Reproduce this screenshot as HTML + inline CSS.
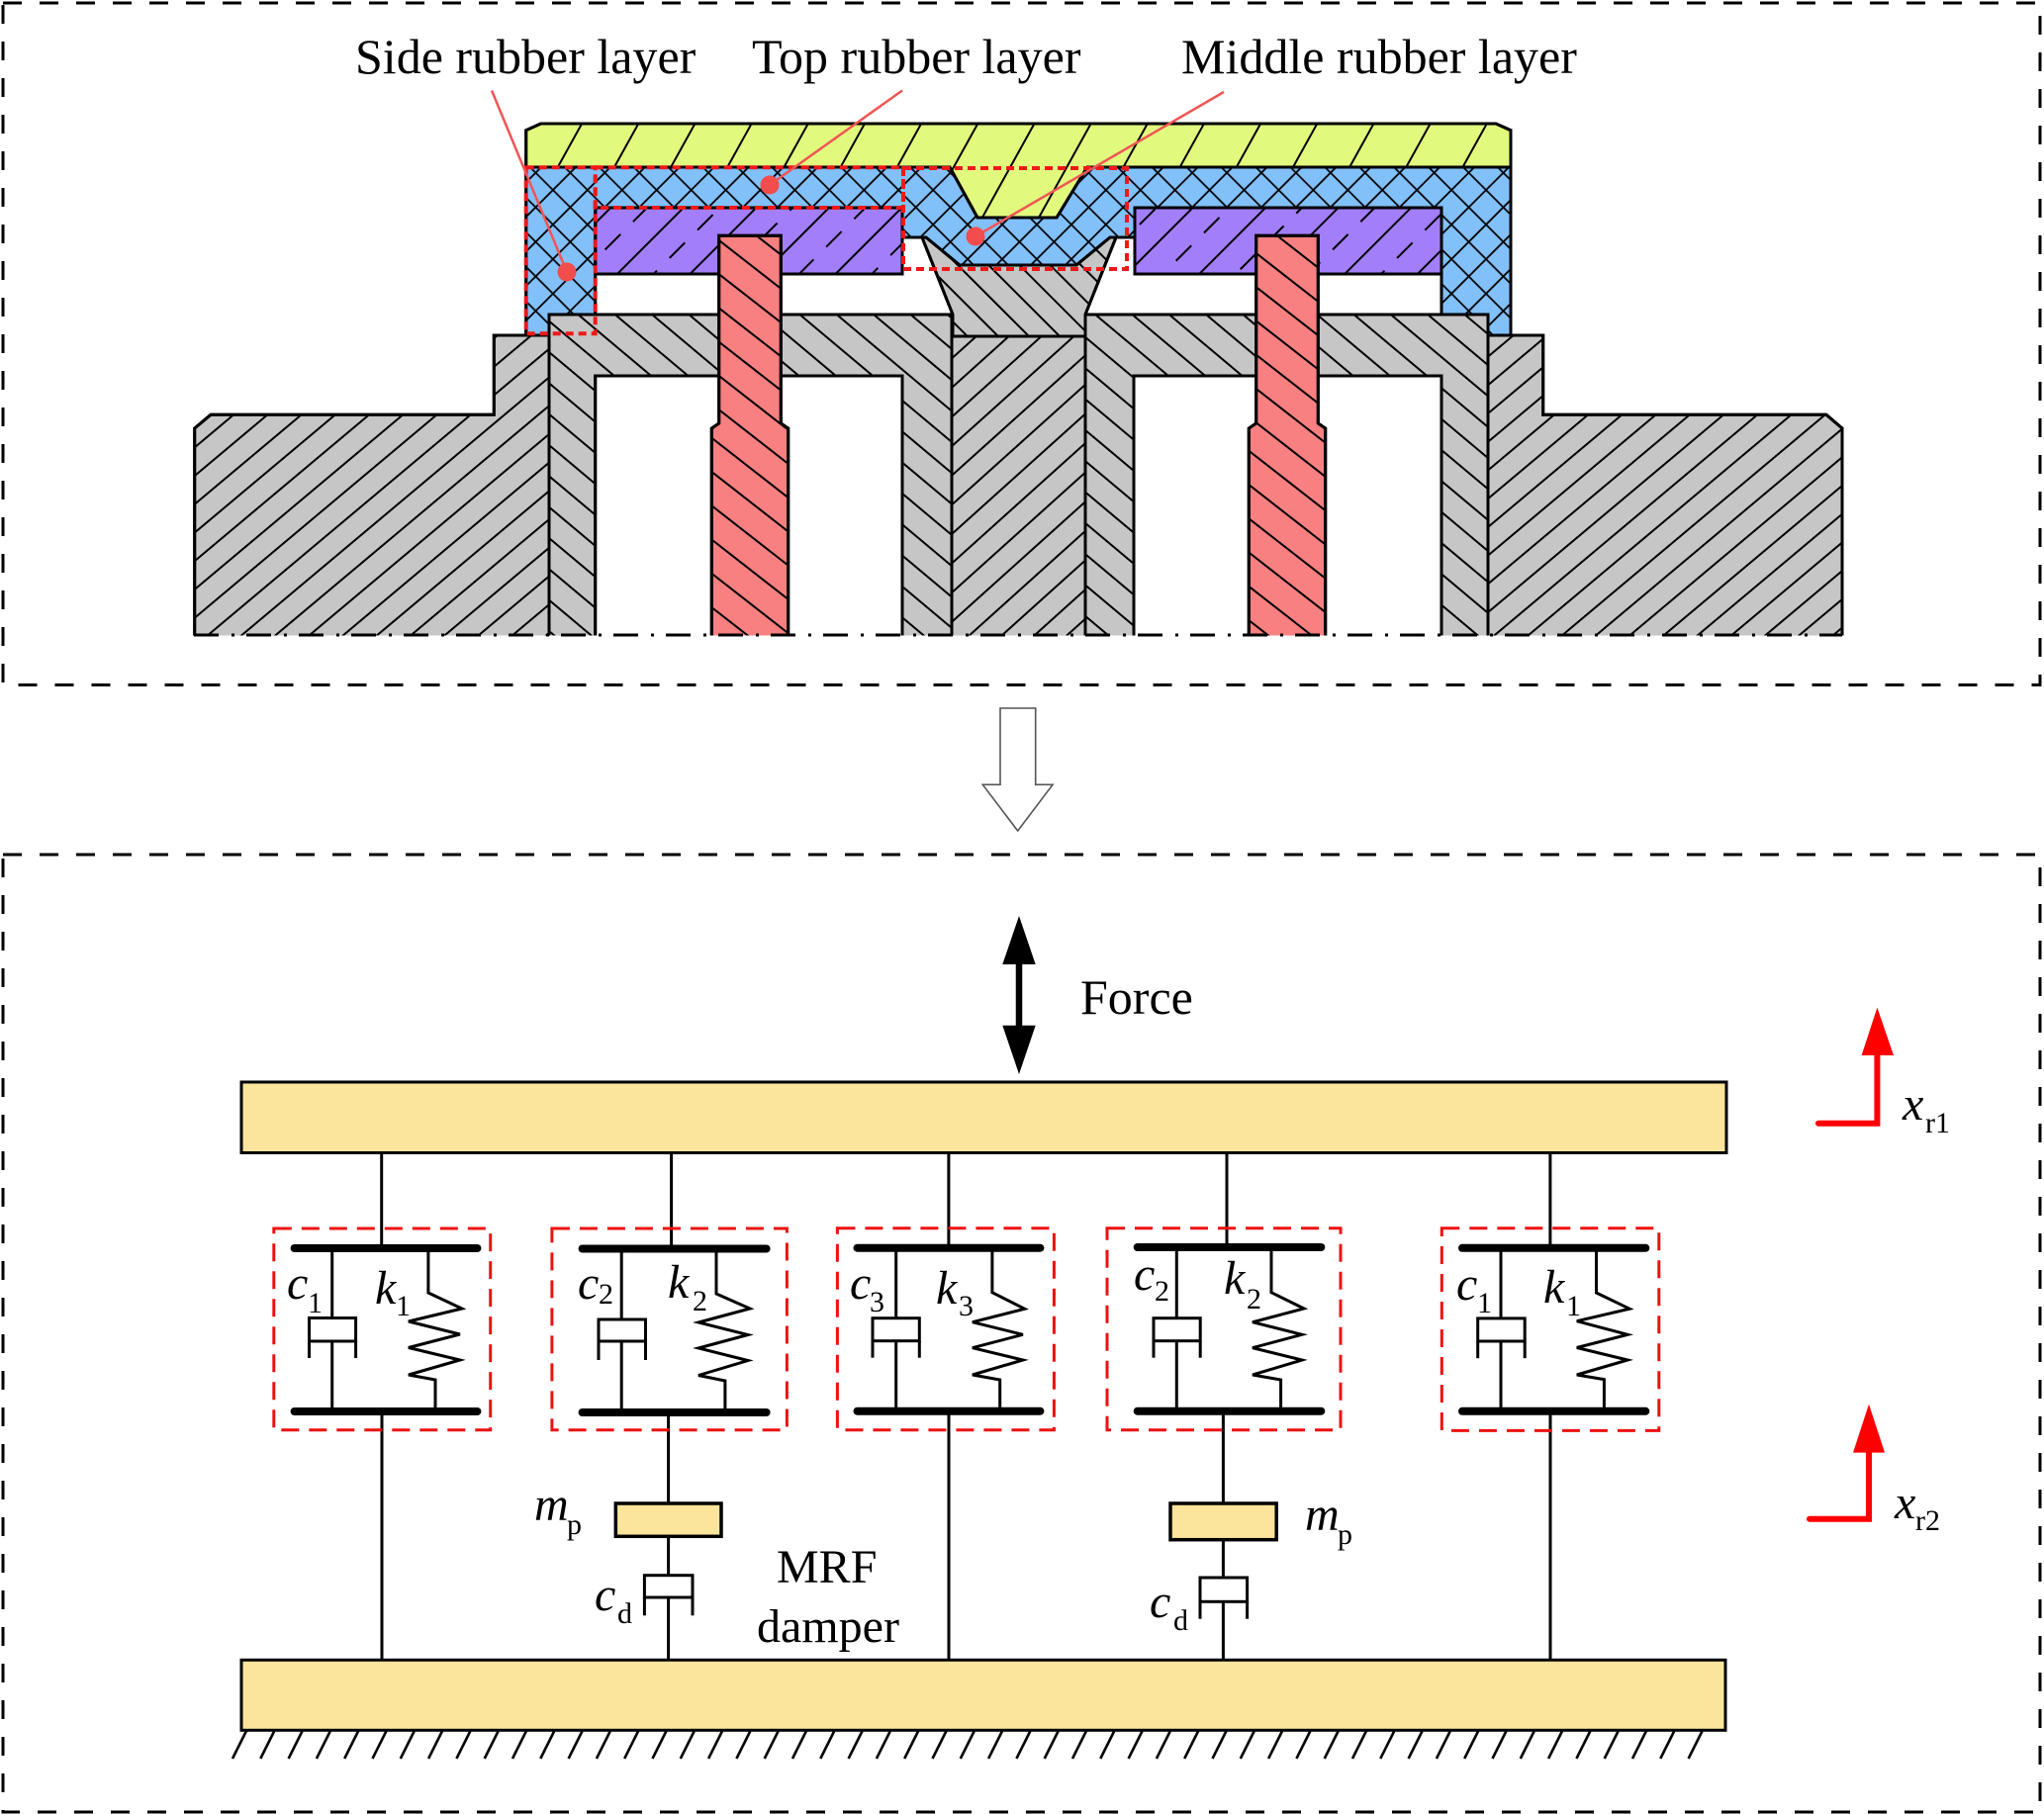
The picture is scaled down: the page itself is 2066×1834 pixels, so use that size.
<!DOCTYPE html>
<html><head><meta charset="utf-8"><style>
html,body{margin:0;padding:0;background:#fff;}
svg{display:block;}
text{font-family:"Liberation Serif","Times New Roman",serif;fill:#000;}
.it{font-style:italic;}
</style></head><body>
<svg width="2066" height="1834" viewBox="0 0 2066 1834" xmlns="http://www.w3.org/2000/svg">
<defs>
<pattern id="hs" width="22" height="22" patternUnits="userSpaceOnUse" patternTransform="rotate(50)"><line x1="11" y1="-1" x2="11" y2="23" stroke="#000" stroke-width="2"/></pattern>
<pattern id="hcol" width="22" height="22" patternUnits="userSpaceOnUse" patternTransform="rotate(48)"><line x1="11" y1="-1" x2="11" y2="23" stroke="#000" stroke-width="2"/></pattern>
<pattern id="hb" width="24" height="24" patternUnits="userSpaceOnUse" patternTransform="rotate(-50)"><line x1="12" y1="-1" x2="12" y2="25" stroke="#000" stroke-width="2"/></pattern>
<pattern id="hp" width="27" height="27" patternUnits="userSpaceOnUse" patternTransform="rotate(-52)"><line x1="13" y1="-1" x2="13" y2="28" stroke="#000" stroke-width="2"/></pattern>
<pattern id="hc" width="22" height="22" patternUnits="userSpaceOnUse" patternTransform="rotate(-45)"><line x1="11" y1="-1" x2="11" y2="23" stroke="#000" stroke-width="2"/></pattern>
<pattern id="hy" width="50" height="50" patternUnits="userSpaceOnUse" patternTransform="rotate(29)"><line x1="25" y1="-1" x2="25" y2="51" stroke="#000" stroke-width="2"/></pattern>
<pattern id="hpu" width="52" height="40" patternUnits="userSpaceOnUse" patternTransform="rotate(45)"><line x1="13" y1="-1" x2="13" y2="41" stroke="#000" stroke-width="2"/><line x1="39" y1="4" x2="39" y2="26" stroke="#000" stroke-width="2"/></pattern>
<pattern id="hx" width="24.7" height="24.7" patternUnits="userSpaceOnUse" patternTransform="rotate(45)"><line x1="12.35" y1="-1" x2="12.35" y2="25.7" stroke="#000" stroke-width="1.8"/><line x1="-1" y1="12.35" x2="25.7" y2="12.35" stroke="#000" stroke-width="1.8"/></pattern>
</defs>

<!-- ===== TOP PANEL ===== -->
<rect x="3" y="3" width="2059" height="689.5" fill="none" stroke="#000" stroke-width="3" stroke-dasharray="19 18"/>

<!-- gray parts -->
<g stroke="#000" stroke-width="3" stroke-linejoin="miter">
  <path d="M196.7,433 L213,419.3 H499.3 V339 H555 V646 H196.7 Z" fill="#C6C6C6"/>
  <path d="M196.7,433 L213,419.3 H499.3 V339 H555 V646 H196.7 Z" fill="url(#hs)"/>
  <path d="M1862,433 L1846,419.3 H1559.7 V339 H1504 V646 H1862 Z" fill="#C6C6C6"/>
  <path d="M1862,433 L1846,419.3 H1559.7 V339 H1504 V646 H1862 Z" fill="url(#hs)"/>
  <path d="M555,318 H962 V646 H912 V380 H601.7 V646 H555 Z" fill="#C6C6C6"/>
  <path d="M555,318 H962 V646 H912 V380 H601.7 V646 H555 Z" fill="url(#hb)"/>
  <path d="M1097,318 H1504 V646 H1457 V380 H1146 V646 H1097 Z" fill="#C6C6C6"/>
  <path d="M1097,318 H1504 V646 H1457 V380 H1146 V646 H1097 Z" fill="url(#hb)"/>
  <path d="M962,340 H1097 V646 H962 Z" fill="#C6C6C6"/>
  <path d="M962,340 H1097 V646 H962 Z" fill="url(#hcol)"/>
  <path d="M932,240 L963,318 V340 H1097 V318 L1128,240 Z" fill="#C6C6C6"/>
  <path d="M932,240 L963,318 V340 H1097 V318 L1128,240 Z" fill="url(#hc)"/>
</g>

<!-- purple -->
<g stroke="#000" stroke-width="3">
  <rect x="601.7" y="210" width="310.3" height="67" fill="#A37EFA"/>
  <rect x="601.7" y="210" width="310.3" height="67" fill="url(#hpu)"/>
  <rect x="1147" y="210" width="310" height="67" fill="#A37EFA"/>
  <rect x="1147" y="210" width="310" height="67" fill="url(#hpu)"/>
</g>

<!-- pins -->
<g stroke="#000" stroke-width="3">
  <path d="M726.7,238.3 H789.3 V428 L796.7,433 V646 H719.3 V433 L726.7,428 Z" fill="#F88080"/>
  <path d="M726.7,238.3 H789.3 V428 L796.7,433 V646 H719.3 V433 L726.7,428 Z" fill="url(#hp)"/>
  <path d="M1269.7,238.3 H1332.3 V428 L1339.7,433 V646 H1262.3 V433 L1269.7,428 Z" fill="#F88080"/>
  <path d="M1269.7,238.3 H1332.3 V428 L1339.7,433 V646 H1262.3 V433 L1269.7,428 Z" fill="url(#hp)"/>
</g>

<!-- blue rubber -->
<g stroke="#000" stroke-width="3" stroke-linejoin="miter">
  <path d="M531.7,169 H1527 V339 H1504 V318 H1457 V210 H1147 V240 H1122 L1088,268 H970 L936,240 H912 V210 H601.7 V318 H555 V339 H531.7 Z" fill="#82C0FA"/>
  <path d="M531.7,169 H1527 V339 H1504 V318 H1457 V210 H1147 V240 H1122 L1088,268 H970 L936,240 H912 V210 H601.7 V318 H555 V339 H531.7 Z" fill="url(#hx)"/>
</g>

<!-- yellow plate -->
<g stroke="#000" stroke-width="3">
  <path d="M531.7,131.7 L546.7,125 H1512 L1527,131.7 V169 H1099 L1068,220 H988 L960,169 H531.7 Z" fill="#E1FA7E"/>
  <path d="M531.7,131.7 L546.7,125 H1512 L1527,131.7 V169 H1099 L1068,220 H988 L960,169 H531.7 Z" fill="url(#hy)"/>
</g>

<!-- cut-off cover and center line -->
<rect x="180" y="642.5" width="1700" height="30" fill="#fff"/>
<line x1="196" y1="642" x2="1862" y2="642" stroke="#000" stroke-width="3" stroke-dasharray="25 13 3 12"/>

<!-- red dotted region boxes -->
<g fill="none" stroke="#F01818" stroke-width="4" stroke-dasharray="8 5">
  <rect x="531.7" y="169.3" width="70" height="168"/>
  <rect x="601.7" y="169.3" width="311.3" height="40.7"/>
  <rect x="913" y="170" width="226" height="102"/>
</g>

<!-- leaders -->
<g stroke="#F05555" stroke-width="2.5" fill="none">
  <line x1="497" y1="91.5" x2="573" y2="275"/>
  <line x1="912" y1="91.5" x2="778" y2="187"/>
  <line x1="1237" y1="93" x2="986" y2="239"/>
</g>
<g fill="#F24C4C">
  <circle cx="573" cy="275" r="9.5"/>
  <circle cx="778" cy="187" r="9.5"/>
  <circle cx="986" cy="239" r="9.5"/>
</g>

<text x="359" y="74" font-size="50">Side rubber layer</text>
<text x="760" y="74" font-size="50">Top rubber layer</text>
<text x="1194" y="74" font-size="50">Middle rubber layer</text>

<!-- hollow arrow -->
<path d="M1011,716 H1046.7 V793.3 H1064 L1028.7,840 L993.3,793.3 H1011 Z" fill="#fff" stroke="#555" stroke-width="1.6"/>

<!-- ===== BOTTOM PANEL ===== -->
<rect x="3" y="864" width="2059" height="968" fill="none" stroke="#000" stroke-width="3" stroke-dasharray="19 18"/>

<!-- Force arrow -->
<line x1="1030" y1="970" x2="1030" y2="1042" stroke="#000" stroke-width="6.5"/>
<polygon points="1030,926 1046.7,975 1013.3,975" fill="#000"/>
<polygon points="1030,1086 1046.7,1036.7 1013.3,1036.7" fill="#000"/>
<text x="1092" y="1025" font-size="50">Force</text>

<!-- bars -->
<rect x="244" y="1094" width="1501" height="71.5" fill="#FBE49B" stroke="#000" stroke-width="3"/>
<rect x="244" y="1678.3" width="1500" height="71" fill="#FBE49B" stroke="#000" stroke-width="3"/>

<!-- ground hatch -->
<g stroke="#000" stroke-width="2.6" id="ground"></g>

<!-- connectors -->
<g stroke="#000" stroke-width="3" fill="none">
  <line x1="385.7" y1="1165" x2="385.7" y2="1262"/>
  <line x1="678.6" y1="1165" x2="678.6" y2="1262"/>
  <line x1="958.9" y1="1165" x2="958.9" y2="1262"/>
  <line x1="1240" y1="1165" x2="1240" y2="1262"/>
  <line x1="1566.9" y1="1165" x2="1566.9" y2="1262"/>

  <line x1="386" y1="1427" x2="386" y2="1678"/>
  <line x1="675.6" y1="1427" x2="675.6" y2="1520"/>
  <line x1="675.6" y1="1553" x2="675.6" y2="1592.7"/>
  <line x1="675.6" y1="1615" x2="675.6" y2="1678"/>
  <line x1="959" y1="1427" x2="959" y2="1678"/>
  <line x1="1236.4" y1="1427" x2="1236.4" y2="1520"/>
  <line x1="1236.4" y1="1556.7" x2="1236.4" y2="1595"/>
  <line x1="1236.4" y1="1619.3" x2="1236.4" y2="1678"/>
  <line x1="1567" y1="1427" x2="1567" y2="1678"/>

  <!-- MRF dampers -->
  <rect x="651.4" y="1592.7" width="48.6" height="22.3"/>
  <line x1="651.4" y1="1615" x2="651.4" y2="1633.3"/>
  <line x1="700" y1="1615" x2="700" y2="1633.3"/>
  <rect x="1213" y="1595" width="47.6" height="24.3"/>
  <line x1="1213" y1="1619.3" x2="1213" y2="1636.7"/>
  <line x1="1260.6" y1="1619.3" x2="1260.6" y2="1636.7"/>
</g>
<rect x="622.3" y="1520" width="106.7" height="33.3" fill="#FBE49B" stroke="#000" stroke-width="3.5"/>
<rect x="1183" y="1520" width="107.2" height="36.7" fill="#FBE49B" stroke="#000" stroke-width="3.5"/>

<!-- units -->
<g id="units" stroke="#000" fill="none">
  <!-- U1 -->
  <line x1="297.6" y1="1262" x2="482.4" y2="1262" stroke-width="8" stroke-linecap="round"/>
  <line x1="297.6" y1="1427" x2="482.4" y2="1427" stroke-width="8" stroke-linecap="round"/>
  <g stroke-width="3">
    <line x1="335.7" y1="1262" x2="335.7" y2="1332.5"/>
    <rect x="312.5" y="1332.5" width="47.1" height="23.5"/>
    <line x1="312.5" y1="1356" x2="312.5" y2="1373"/><line x1="359.6" y1="1356" x2="359.6" y2="1373"/>
    <line x1="335.7" y1="1356" x2="335.7" y2="1427"/>
    <polyline points="432.9,1262 432.9,1307 466.9,1323 412.9,1336 464.9,1349 412.9,1362.5 464.9,1375 412.9,1390 440,1395 440,1427"/>
  </g>
  <!-- U2 -->
  <line x1="588.6" y1="1262.5" x2="774.6" y2="1262.5" stroke-width="8" stroke-linecap="round"/>
  <line x1="588.6" y1="1428" x2="774.6" y2="1428" stroke-width="8" stroke-linecap="round"/>
  <g stroke-width="3">
    <line x1="628.2" y1="1262" x2="628.2" y2="1334"/>
    <rect x="605" y="1334" width="47.5" height="22"/>
    <line x1="605" y1="1356" x2="605" y2="1375"/><line x1="652.5" y1="1356" x2="652.5" y2="1375"/>
    <line x1="628.2" y1="1356" x2="628.2" y2="1428"/>
    <polyline points="724,1262 724,1308 758,1323 706,1337 756,1349.5 706,1363 756,1375.5 706,1390.5 732.9,1396 732.9,1428"/>
  </g>
  <!-- U3 -->
  <line x1="866.5" y1="1261.7" x2="1051.4" y2="1261.7" stroke-width="8" stroke-linecap="round"/>
  <line x1="866.5" y1="1426.7" x2="1051.4" y2="1426.7" stroke-width="8" stroke-linecap="round"/>
  <g stroke-width="3">
    <line x1="905.7" y1="1262" x2="905.7" y2="1332.7"/>
    <rect x="882" y="1332.7" width="47.3" height="23"/>
    <line x1="882" y1="1355.7" x2="882" y2="1372.7"/><line x1="929.3" y1="1355.7" x2="929.3" y2="1372.7"/>
    <line x1="905.7" y1="1355.7" x2="905.7" y2="1427"/>
    <polyline points="1002.9,1262 1002.9,1306.7 1035.7,1323.3 982.9,1336.7 1033.9,1349.3 982.9,1362.7 1033.9,1375 982.9,1390 1010.7,1395 1010.7,1427"/>
  </g>
  <!-- U4 -->
  <line x1="1149.7" y1="1261" x2="1335.3" y2="1261" stroke-width="8" stroke-linecap="round"/>
  <line x1="1149.7" y1="1426.7" x2="1335.3" y2="1426.7" stroke-width="8" stroke-linecap="round"/>
  <g stroke-width="3">
    <line x1="1189.3" y1="1261" x2="1189.3" y2="1332.7"/>
    <rect x="1166" y="1332.7" width="47.2" height="23"/>
    <line x1="1166" y1="1355.7" x2="1166" y2="1372.7"/><line x1="1213.2" y1="1355.7" x2="1213.2" y2="1372.7"/>
    <line x1="1189.3" y1="1355.7" x2="1189.3" y2="1427"/>
    <polyline points="1285,1261 1285,1306.7 1318,1323 1266,1336.7 1316,1349.3 1266,1362.7 1316,1375 1266,1390 1294.6,1395 1294.6,1427"/>
  </g>
  <!-- U5 -->
  <line x1="1478" y1="1261.8" x2="1663.3" y2="1261.8" stroke-width="8" stroke-linecap="round"/>
  <line x1="1478" y1="1426.8" x2="1663.3" y2="1426.8" stroke-width="8" stroke-linecap="round"/>
  <g stroke-width="3">
    <line x1="1517" y1="1262" x2="1517" y2="1332.9"/>
    <rect x="1493.7" y="1332.9" width="47.5" height="23.1"/>
    <line x1="1493.7" y1="1356" x2="1493.7" y2="1373.2"/><line x1="1541.2" y1="1356" x2="1541.2" y2="1373.2"/>
    <line x1="1517" y1="1356" x2="1517" y2="1427"/>
    <polyline points="1613.5,1262 1613.5,1307 1647.1,1323.2 1593.8,1335.7 1645.2,1349.3 1593.8,1362.5 1645.2,1375 1593.8,1390 1621.4,1394.6 1621.4,1427"/>
  </g>
</g>

<!-- red dashed unit boxes -->
<g fill="none" stroke="#EE1111" stroke-width="3" stroke-dasharray="18 10">
  <rect x="276.8" y="1242" width="218.9" height="203.7"/>
  <rect x="557.9" y="1242" width="237.5" height="203.7"/>
  <rect x="846.4" y="1241.7" width="219" height="204"/>
  <rect x="1119" y="1241.7" width="236" height="204"/>
  <rect x="1457.3" y="1241.8" width="219.5" height="204.6"/>
</g>

<!-- unit labels -->
<g font-size="48">
  <text class="it" x="290" y="1313">c</text><text x="311" y="1327" font-size="30">1</text>
  <text class="it" x="379" y="1318">k</text><text x="400" y="1330" font-size="30">1</text>

  <text class="it" x="584" y="1313">c</text><text x="605" y="1318" font-size="30">2</text>
  <text class="it" x="675" y="1312">k</text><text x="700" y="1325" font-size="30">2</text>

  <text class="it" x="859" y="1313">c</text><text x="879" y="1326" font-size="30">3</text>
  <text class="it" x="946" y="1318">k</text><text x="969" y="1330" font-size="30">3</text>

  <text class="it" x="1146" y="1304">c</text><text x="1167" y="1315" font-size="30">2</text>
  <text class="it" x="1237" y="1308">k</text><text x="1260" y="1323" font-size="30">2</text>

  <text class="it" x="1472" y="1314">c</text><text x="1493" y="1327" font-size="30">1</text>
  <text class="it" x="1560" y="1317">k</text><text x="1583" y="1330" font-size="30">1</text>

  <text class="it" x="540" y="1537">m</text><text x="573" y="1551" font-size="30">p</text>
  <text class="it" x="601" y="1628">c</text><text x="624" y="1641" font-size="30">d</text>
  <text class="it" x="1319" y="1547">m</text><text x="1352" y="1561" font-size="30">p</text>
  <text class="it" x="1162" y="1635">c</text><text x="1186" y="1648" font-size="30">d</text>

  <text x="785" y="1600">MRF</text>
  <text x="765" y="1660">damper</text>
</g>

<!-- displacement arrows -->
<g stroke="#FF0000" stroke-width="6" fill="none" stroke-linejoin="miter">
  <polyline points="1838,1135.7 1897.4,1135.7 1897.4,1062" stroke-linecap="round"/>
  <polyline points="1829,1535.7 1889,1535.7 1889,1464" stroke-linecap="round"/>
</g>
<polygon points="1881.6,1067 1914,1067 1897.4,1018.6" fill="#FF0000"/>
<polygon points="1873,1468.6 1905,1468.6 1889,1419.6" fill="#FF0000"/>
<text class="it" x="1923" y="1132" font-size="48">x</text><text x="1946" y="1145" font-size="30">r1</text>
<text class="it" x="1915" y="1535" font-size="48">x</text><text x="1936" y="1547" font-size="30">r2</text>

<!-- ground hatch lines -->
<g stroke="#000" stroke-width="2.6">
<line x1="249" y1="1750" x2="235" y2="1778"/><line x1="277.3" y1="1750" x2="263.3" y2="1778"/><line x1="305.6" y1="1750" x2="291.6" y2="1778"/><line x1="333.9" y1="1750" x2="319.9" y2="1778"/><line x1="362.2" y1="1750" x2="348.2" y2="1778"/><line x1="390.5" y1="1750" x2="376.5" y2="1778"/><line x1="418.8" y1="1750" x2="404.8" y2="1778"/><line x1="447.1" y1="1750" x2="433.1" y2="1778"/><line x1="475.4" y1="1750" x2="461.4" y2="1778"/><line x1="503.7" y1="1750" x2="489.7" y2="1778"/>
<line x1="532" y1="1750" x2="518" y2="1778"/><line x1="560.3" y1="1750" x2="546.3" y2="1778"/><line x1="588.6" y1="1750" x2="574.6" y2="1778"/><line x1="616.9" y1="1750" x2="602.9" y2="1778"/><line x1="645.2" y1="1750" x2="631.2" y2="1778"/><line x1="673.5" y1="1750" x2="659.5" y2="1778"/><line x1="701.8" y1="1750" x2="687.8" y2="1778"/><line x1="730.1" y1="1750" x2="716.1" y2="1778"/><line x1="758.4" y1="1750" x2="744.4" y2="1778"/><line x1="786.7" y1="1750" x2="772.7" y2="1778"/>
<line x1="815" y1="1750" x2="801" y2="1778"/><line x1="843.3" y1="1750" x2="829.3" y2="1778"/><line x1="871.6" y1="1750" x2="857.6" y2="1778"/><line x1="899.9" y1="1750" x2="885.9" y2="1778"/><line x1="928.2" y1="1750" x2="914.2" y2="1778"/><line x1="956.5" y1="1750" x2="942.5" y2="1778"/><line x1="984.8" y1="1750" x2="970.8" y2="1778"/><line x1="1013.1" y1="1750" x2="999.1" y2="1778"/><line x1="1041.4" y1="1750" x2="1027.4" y2="1778"/><line x1="1069.7" y1="1750" x2="1055.7" y2="1778"/>
<line x1="1098" y1="1750" x2="1084" y2="1778"/><line x1="1126.3" y1="1750" x2="1112.3" y2="1778"/><line x1="1154.6" y1="1750" x2="1140.6" y2="1778"/><line x1="1182.9" y1="1750" x2="1168.9" y2="1778"/><line x1="1211.2" y1="1750" x2="1197.2" y2="1778"/><line x1="1239.5" y1="1750" x2="1225.5" y2="1778"/><line x1="1267.8" y1="1750" x2="1253.8" y2="1778"/><line x1="1296.1" y1="1750" x2="1282.1" y2="1778"/><line x1="1324.4" y1="1750" x2="1310.4" y2="1778"/><line x1="1352.7" y1="1750" x2="1338.7" y2="1778"/>
<line x1="1381" y1="1750" x2="1367" y2="1778"/><line x1="1409.3" y1="1750" x2="1395.3" y2="1778"/><line x1="1437.6" y1="1750" x2="1423.6" y2="1778"/><line x1="1465.9" y1="1750" x2="1451.9" y2="1778"/><line x1="1494.2" y1="1750" x2="1480.2" y2="1778"/><line x1="1522.5" y1="1750" x2="1508.5" y2="1778"/><line x1="1550.8" y1="1750" x2="1536.8" y2="1778"/><line x1="1579.1" y1="1750" x2="1565.1" y2="1778"/><line x1="1607.4" y1="1750" x2="1593.4" y2="1778"/><line x1="1635.7" y1="1750" x2="1621.7" y2="1778"/>
<line x1="1664" y1="1750" x2="1650" y2="1778"/><line x1="1692.3" y1="1750" x2="1678.3" y2="1778"/><line x1="1720.6" y1="1750" x2="1706.6" y2="1778"/>
</g>
</svg>
</body></html>
